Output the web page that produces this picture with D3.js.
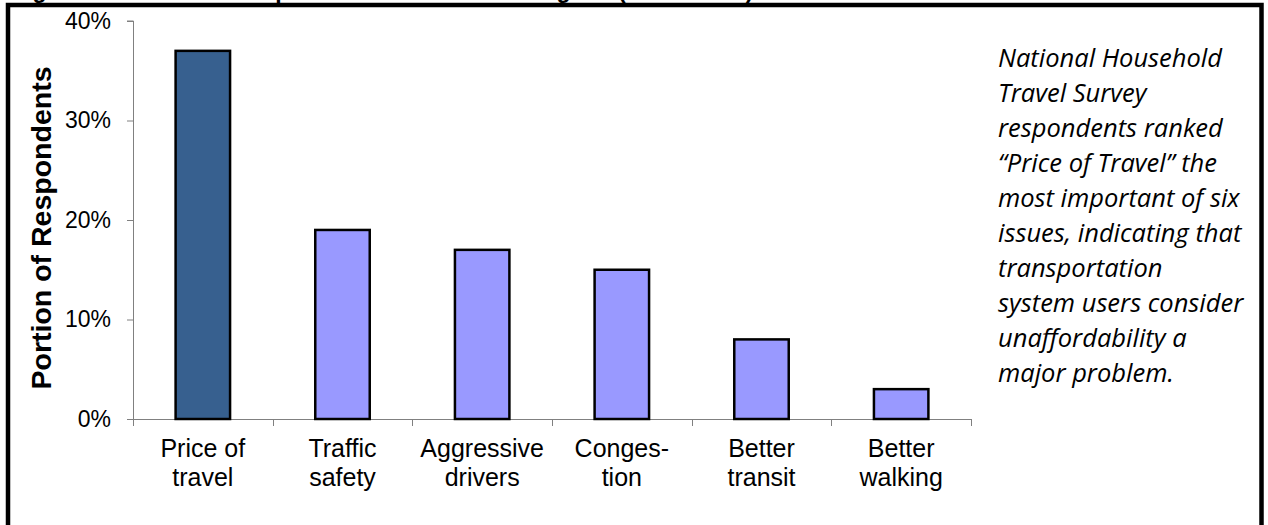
<!DOCTYPE html>
<html>
<head>
<meta charset="utf-8">
<script src="https://cdn.jsdelivr.net/npm/d3@7"></script>
<style>
  html, body { margin: 0; padding: 0; background: #fff; }
  svg { display: block; }
</style>
</head>
<body>
<svg id="chart" width="1268" height="525"></svg>
<script>
// Issue categories (line breaks as printed under each bar)
const categories = ["Price of\ntravel", "Traffic\nsafety", "Aggressive\ndrivers", "Conges-\ntion", "Better\ntransit", "Better\nwalking"];
// Share of respondents ranking each issue most important
const shares = [0.37, 0.19, 0.17, 0.15, 0.08, 0.03];
// Y axis ticks
const yTicks = [0, 0.10, 0.20, 0.30, 0.40];
// Side note, one entry per printed line
const noteLines = [
  "National Household",
  "Travel Survey",
  "respondents ranked",
  "\u201CPrice of Travel\u201D the",
  "most important of six",
  "issues, indicating that",
  "transportation",
  "system users consider",
  "unaffordability a",
  "major problem."
];
const yTitle = "Portion of Respondents";

const svg = d3.select("#chart");

// Figure caption, sitting above the frame so only its descenders show
const cap = svg.append("text")
  .attr("y", -2)
  .attr("font-family", "Liberation Sans, Arial, sans-serif")
  .attr("font-weight", "bold")
  .attr("font-size", 23)
  .attr("fill", "#000");
cap.append("tspan").attr("x", 12).text("Figure 3");
cap.append("tspan").attr("x", 214).text("Transportation Problem Rankings");
cap.append("tspan").attr("x", 618).text("(NHTS 2001)");

// Outer frame
svg.append("rect")
  .attr("x", 8).attr("y", 5)
  .attr("width", 1253.5).attr("height", 560)
  .attr("fill", "none")
  .attr("stroke", "#000")
  .attr("stroke-width", 4.5);

const x = d3.scaleBand()
  .domain(categories)
  .range([133, 971])
  .padding(0);

const y = d3.scaleLinear()
  .domain([0, 0.40])
  .range([419, 21]);

// Y axis
const yAxis = svg.append("g")
  .attr("transform", "translate(133,0)")
  .call(d3.axisLeft(y).tickValues(yTicks).tickFormat(d3.format(".0%")).tickSize(6).tickPadding(16));
yAxis.select(".domain").attr("stroke", "#808080").attr("d", `M-6,${y(0.40)}H0.5V${y(0)}`);
yAxis.selectAll(".tick line").attr("stroke", "#808080");
yAxis.selectAll(".tick text")
  .attr("font-family", "Liberation Sans, Arial, sans-serif")
  .attr("font-size", 23)
  .attr("fill", "#000");

// X axis with ticks on band boundaries
const xAxis = svg.append("g").attr("transform", `translate(0,${y(0)})`);
xAxis.append("line")
  .attr("x1", 127).attr("x2", x.range()[1])
  .attr("y1", 0.5).attr("y2", 0.5)
  .attr("stroke", "#808080");
const bounds = categories.map(c => x(c)).concat([x.range()[1]]);
xAxis.selectAll("line.b").data(bounds).join("line")
  .attr("class", "b")
  .attr("x1", d => Math.round(d) + 0.5).attr("x2", d => Math.round(d) + 0.5)
  .attr("y1", 0).attr("y2", 7)
  .attr("stroke", "#808080");

// Category labels
const labels = svg.append("g")
  .attr("font-family", "Liberation Sans, Arial, sans-serif")
  .attr("font-size", 25)
  .attr("text-anchor", "middle")
  .attr("fill", "#000");
labels.selectAll("text").data(categories).join("text")
  .attr("x", d => x(d) + x.bandwidth() / 2)
  .attr("y", 457)
  .each(function(d) {
    const t = d3.select(this);
    d.split("\n").forEach((line, i) => {
      t.append("tspan")
        .attr("x", x(d) + x.bandwidth() / 2)
        .attr("dy", i === 0 ? 0 : 29)
        .text(line);
    });
  });

// Bars
const barW = x.bandwidth() * 0.39;
svg.append("g").selectAll("rect").data(shares).join("rect")
  .attr("x", (d, i) => x(categories[i]) + (x.bandwidth() - barW) / 2)
  .attr("y", d => y(d))
  .attr("width", barW)
  .attr("height", d => y(0) - y(d))
  .attr("fill", (d, i) => i === 0 ? "#37608f" : "#9999ff")
  .attr("stroke", "#000")
  .attr("stroke-width", 2.5);

// Y axis title
svg.append("text")
  .attr("transform", `translate(51,${(y(0) + y(0.40)) / 2 + 8}) rotate(-90)`)
  .attr("text-anchor", "middle")
  .attr("font-family", "Liberation Sans, Arial, sans-serif")
  .attr("font-weight", "bold")
  .attr("font-size", 28.5)
  .attr("fill", "#000")
  .text(yTitle);

// Side note
svg.append("g")
  .attr("font-family", "Open Sans, sans-serif")
  .attr("font-style", "italic")
  .attr("font-size", 25.5)
  .attr("fill", "#000")
  .selectAll("text").data(noteLines).join("text")
  .attr("x", 998)
  .attr("y", (d, i) => 67 + i * 35)
  .text(d => d);
</script>
</body>
</html>
